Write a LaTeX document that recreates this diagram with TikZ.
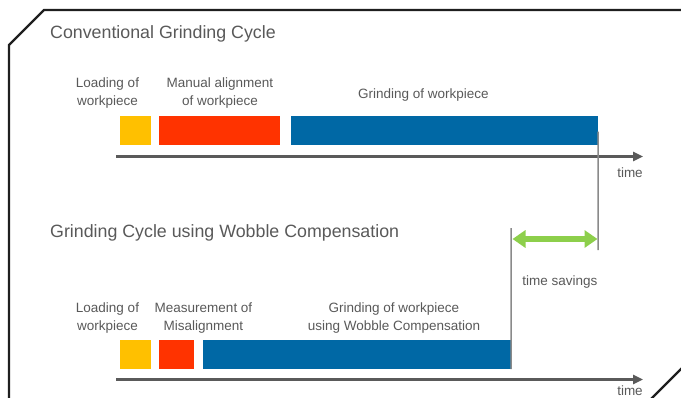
\documentclass[tikz,border=0pt]{standalone}
\usepackage{fontspec}
\setmainfont{Liberation Sans}
\usetikzlibrary{arrows.meta}
\definecolor{txtgray}{HTML}{595959}
\definecolor{axisgray}{HTML}{5A5A5A}
\definecolor{linegray}{HTML}{8A8A8A}
\definecolor{loadyellow}{HTML}{FFC000}
\definecolor{alignred}{HTML}{FF3300}
\definecolor{grindblue}{HTML}{0068A5}
\definecolor{savegreen}{HTML}{8DCF4B}
\tikzset{
  phase/.style={draw=none, inner sep=0pt, minimum height=29pt},
  lbl/.style={text=txtgray, align=center, inner sep=0pt,
    font=\fontsize{13.5}{18}\selectfont},
  heading/.style={text=txtgray, anchor=west, inner sep=0pt,
    font=\fontsize{17.8}{20}\selectfont},
  timeaxis/.style={draw=axisgray, line width=2.4pt,
    -{Triangle[length=10pt,width=9pt]}},
  marker/.style={draw=linegray, line width=1.5pt},
  saving/.style={draw=savegreen, line width=5.5pt,
    {Triangle[length=13pt,width=17pt]}-{Triangle[length=13pt,width=17pt]}}
}
\begin{document}
\begin{tikzpicture}[x=1pt,y=-1pt]
\useasboundingbox (0,0) rectangle (681,397);
\clip (0,0) rectangle (681,397);
% outer frame with chamfered corners
\draw[line width=2.2pt, color=black!88, line join=miter]
  (690,10) -- (44,10) -- (9,45) -- (9,405);
\draw[line width=2.2pt, color=black!88] (645,405) -- (690,360);

% ---------- conventional cycle ----------
\node[heading] (t1) at (50,34) {Conventional Grinding Cycle};
\node[lbl] (l1a) at (107.5,93) {Loading of\\workpiece};
\node[lbl] (l1b) at (220,93) {Manual alignment\\of workpiece};
\node[lbl] (l1c) at (423.5,95) {Grinding of workpiece};
\node[phase, fill=loadyellow, minimum width=31pt]  (ld1) at (135.5,130.5) {};
\node[phase, fill=alignred,   minimum width=121pt] (al1) at (219.5,130.5) {};
\node[phase, fill=grindblue,  minimum width=307pt] (gr1) at (444.5,130.5) {};
\coordinate (ax1s) at (116,156.5);
\coordinate (ax1e) at (643,156.5);
\draw[timeaxis] (ax1s) -- (ax1e);
\node[lbl] (tm1) at (630,172.5) {time};

% ---------- cycle with wobble compensation ----------
\node[heading] (t2) at (50,233) {Grinding Cycle using Wobble Compensation};
\node[lbl] (l2a) at (107.5,318) {Loading of\\workpiece};
\node[lbl] (l2b) at (203.5,318) {Measurement of\\Misalignment};
\node[lbl] (l2c) at (394,318) {Grinding of workpiece\\using Wobble Compensation};
\node[phase, fill=loadyellow, minimum width=31pt]  (ld2) at (135.5,354.5) {};
\node[phase, fill=alignred,   minimum width=35pt]  (ms2) at (176.5,354.5) {};
\node[phase, fill=grindblue,  minimum width=308pt] (gr2) at (357,354.5) {};
\coordinate (ax2s) at (116,379.5);
\coordinate (ax2e) at (643,379.5);
\draw[timeaxis] (ax2s) -- (ax2e);
\node[lbl] (tm2) at (630,391) {time};

% ---------- end markers and saving ----------
\coordinate (m1top) at ([yshift=-1pt]gr1.east);
\coordinate (m1bot) at (598,250);
\draw[marker] (m1top) -- (m1bot);
\coordinate (m2top) at (511,228);
\draw[marker] (m2top) -- (gr2.south east);
\coordinate (sv1) at (512.5,239);
\coordinate (sv2) at (597.5,239);
\draw[saving] (sv1) -- (sv2);
\node[lbl] (ts) at (560,282) {time savings};
\end{tikzpicture}
\end{document}
